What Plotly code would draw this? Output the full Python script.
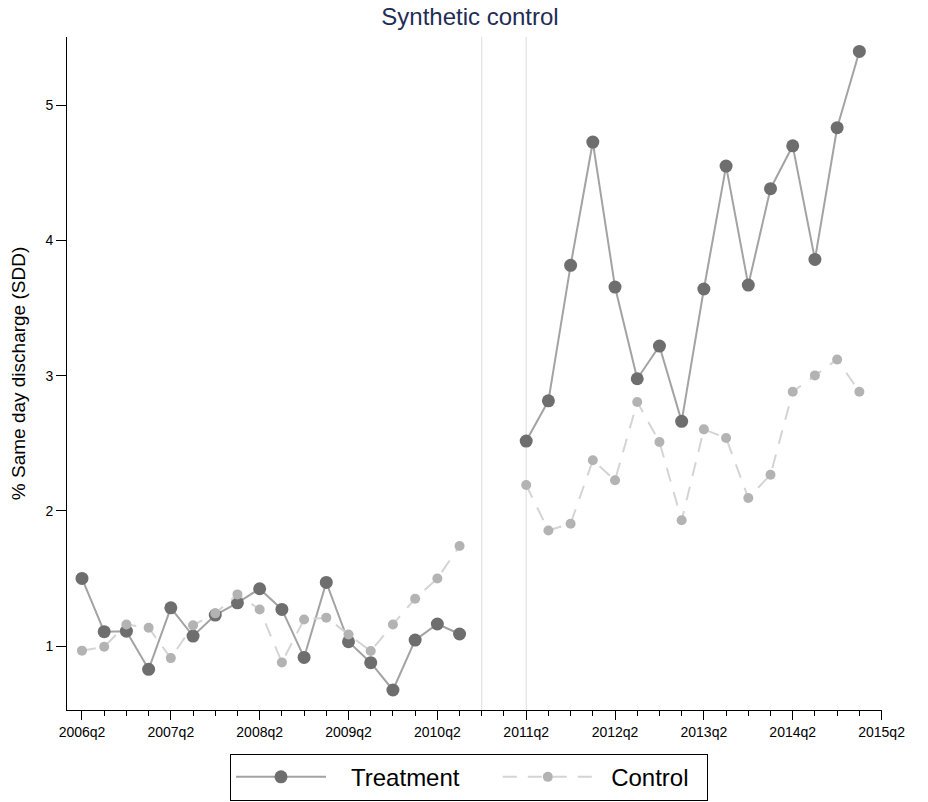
import plotly.graph_objects as go

# Quarter index 0 = 2006q2
quarters = list(range(36))
treatment = [1.50, 1.106, 1.11, 0.828, 1.283, 1.074, 1.229, 1.32, 1.424, 1.271,
             0.916, 1.471, 1.032, 0.877, 0.675, 1.044, 1.163, 1.089,
             None, None,
             2.516, 2.814, 3.816, 4.728, 3.655, 2.977, 3.219, 2.662, 3.641, 4.55,
             3.67, 4.383, 4.70, 3.86, 4.834, 5.398]
control = [0.966, 0.995, 1.16, 1.135, 0.911, 1.153, 1.242, 1.382, 1.271, 0.879,
           1.197, 1.21, 1.086, 0.963, 1.16, 1.35, 1.50, 1.74,
           None, None,
           2.191, 1.855, 1.905, 2.374, 2.226, 2.805, 2.509, 1.93, 2.603, 2.539,
           2.095, 2.267, 2.881, 3.002, 3.12, 2.881]
tick_quarters = [0, 4, 8, 12, 16, 20, 24, 28, 32, 36]
tick_labels = ["2006q2", "2007q2", "2008q2", "2009q2", "2010q2",
               "2011q2", "2012q2", "2013q2", "2014q2", "2015q2"]
event_lines = [18, 20]

font_family = "Liberation Sans, Arial, sans-serif"
NB = "\u00a0"

fig = go.Figure()
fig.add_trace(go.Scatter(
    x=quarters, y=treatment, name=NB * 3 + "Treatment" + NB * 5, mode="lines+markers",
    line=dict(color="#a3a3a3", width=2),
    marker=dict(color="#6e6e6e", size=13),
    connectgaps=False,
))
fig.add_trace(go.Scatter(
    x=quarters, y=control, name=NB * 2 + "Control" + NB * 2, mode="lines+markers",
    line=dict(color="#d4d4d4", width=2, dash="14px,11px"),
    marker=dict(color="#b3b3b3", size=10),
    connectgaps=False,
))
for q in event_lines:
    fig.add_vline(x=q, line=dict(color="#dcdcdc", width=1), layer="below")

fig.update_layout(
    width=928, height=802,
    margin=dict(l=67, r=46, t=37, b=92, autoexpand=False),
    plot_bgcolor="white", paper_bgcolor="white",
    font=dict(family=font_family, color="black", size=14),
    title=dict(text="Synthetic control", x=470/928, xanchor="center",
               y=1 - 17/802, yanchor="middle",
               font=dict(size=24, color="#1f2d56", family=font_family)),
    showlegend=True,
    legend=dict(orientation="h", x=(230 - 67) / 815, xanchor="left", y=-0.065, yanchor="top",
                bordercolor="black", borderwidth=1, font=dict(size=24),
                itemwidth=90, tracegroupgap=0),
)
fig.update_xaxes(
    range=[-0.675, 36.02], tickmode="array", tickvals=tick_quarters, ticktext=tick_labels,
    showgrid=False, zeroline=False, showline=True, linecolor="black", linewidth=1,
    ticks="outside", ticklen=9, tickcolor="black", tickwidth=1,
    tickfont=dict(size=14), automargin=False,
    minor=dict(dtick=1, tick0=0, ticks="outside", ticklen=5, tickcolor="black", showgrid=False),
)
fig.update_yaxes(
    range=[0.527, 5.505], tickvals=[1, 2, 3, 4, 5],
    showgrid=False, zeroline=False, showline=True, linecolor="black", linewidth=1,
    ticks="outside", ticklen=10, tickcolor="black", tickwidth=1,
    tickfont=dict(size=14), automargin=False,
    title=dict(text="% Same day discharge (SDD)", font=dict(size=19), standoff=14),
)
fig.write_html("out.html", config={"displayModeBar": False},
               post_script="document.body.style.margin='0';document.body.style.overflow='hidden';")
